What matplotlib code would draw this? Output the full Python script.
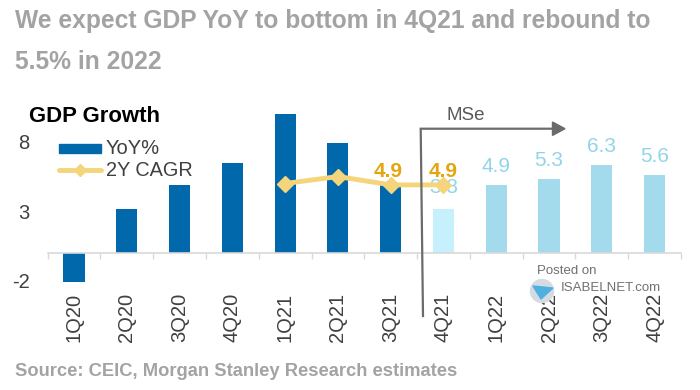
#!/usr/bin/env python3
import matplotlib
matplotlib.use('Agg')
import matplotlib.pyplot as plt
from matplotlib.patches import Circle, Polygon

W, H = 700, 390

quarters = ['1Q20', '2Q20', '3Q20', '4Q20', '1Q21', '2Q21', '3Q21', '4Q21', '1Q22', '2Q22', '3Q22', '4Q22']
yoy = [-2.1, 3.2, 4.9, 6.5, 10.0, 7.9, 4.9, 3.2, 4.9, 5.3, 6.3, 5.6]
yoy_labels = ['3.8', '4.9', '5.3', '6.3', '5.6']
cagr_quarters = ['1Q21', '2Q21', '3Q21', '4Q21']
cagr = [5.0, 5.5, 4.9, 4.9]
cagr_labels = ['4.9', '4.9']
yticks = [-2, 3, 8]

DARK = '#0068ab'
PALE = '#c5f0fc'
LIGHT = '#a3dbec'
LABEL = '#92d5ea'
GOLD = '#f5d57c'
GOLD_TEXT = '#e5a50f'
GREY = '#a3a3a3'
ARROW = '#6b6b6b'

plt.rcParams['font.family'] = ['Liberation Sans', 'DejaVu Sans']

fig = plt.figure(figsize=(W / 100, H / 100), dpi=100)

# axes box in pixels: x 47.6-681, zero at y=253, 13.9 px per unit
left, right, top, bottom = 47.6, 681.0, 100.0, 290.0
ax = fig.add_axes([left / W, 1 - bottom / H, (right - left) / W, (bottom - top) / H])
ax.set_xlim(-0.5, 11.5)
ax.set_ylim((253 - bottom) / 13.9, (253 - top) / 13.9)
ax.patch.set_alpha(0)

x = list(range(len(quarters)))
colors = [DARK] * 7 + [PALE] + [LIGHT] * 4
ax.bar(x, yoy, width=0.4, color=colors, zorder=2)

cx = [quarters.index(q) for q in cagr_quarters]
ax.plot(cx, cagr, color=GOLD, lw=3.5, marker='D', ms=8.5, mec=GOLD, solid_capstyle='round', zorder=3)

for q, lab in zip(quarters[7:], yoy_labels):
    i = quarters.index(q)
    ax.text(i, yoy[i] + 1.35 if i > 7 else 4.7, lab, color=LABEL, fontsize=15, ha='center', va='center', zorder=2.5)
for i, lab in zip([6, 7], cagr_labels):
    ax.text(i - 0.05 if i == 6 else i, 5.85, lab, color=GOLD_TEXT, fontsize=15, fontweight='bold', ha='center', va='center', zorder=4)

for s in ['top', 'right', 'left']:
    ax.spines[s].set_visible(False)
ax.spines['bottom'].set_position(('data', 0))
ax.spines['bottom'].set_color('#d9d9d9')
ax.spines['bottom'].set_linewidth(1.2)
ax.set_xticks([i - 0.5 for i in range(13)])
ax.set_xticklabels([])
ax.tick_params(axis='x', direction='out', length=4, color='#d9d9d9', width=1)
ax.set_yticks(yticks)
ax.set_yticklabels([str(v) for v in yticks], fontsize=14.5, color='#404040')
ax.tick_params(axis='y', length=0, pad=13)

# quarter labels sit under the axes, so they are placed as plain text
for i, q in zip(x, quarters):
    ax.annotate(q, (i, 0), xytext=(0, -(317.5 - 253)), xycoords='data', textcoords='offset pixels',
                rotation=90, fontsize=14.5, color='#404040', ha='center', va='center', zorder=1)

# overlay in pixel coordinates for the annotation furniture
ov = fig.add_axes([0, 0, 1, 1])
ov.set_xlim(0, W)
ov.set_ylim(H, 0)
ov.axis('off')
ov.patch.set_alpha(0)

ov.text(15, 21, 'We expect GDP YoY to bottom in 4Q21 and rebound to', fontsize=17.7, fontweight='bold', color=GREY, va='center')
ov.text(15, 62, '5.5% in 2022', fontsize=17.7, fontweight='bold', color=GREY, va='center')
ov.text(29, 116, 'GDP Growth', fontsize=15.9, fontweight='bold', color='black', va='center')
ov.text(15, 371, 'Source: CEIC, Morgan Stanley Research estimates', fontsize=13.2, fontweight='bold', color=GREY, va='center')

# legend
ov.add_patch(plt.Rectangle((59, 143.5), 42, 9.5, color=DARK))
ov.text(106, 148, 'YoY%', fontsize=14.5, color='#404040', va='center')
ov.plot([59, 101], [170, 170], color=GOLD, lw=3.5, solid_capstyle='round')
ov.plot([79.5], [170], marker='D', ms=6, color=GOLD)
ov.text(106, 170, '2Y CAGR', fontsize=14.3, color='#404040', va='center')

# MSe arrow
ov.plot([423, 420.7, 553], [316, 128.7, 128.7], color=ARROW, lw=1.6, solid_joinstyle='miter')
ov.add_patch(Polygon([[552.5, 122], [565, 128.7], [552.5, 135.4]], color=ARROW))
ov.text(446.5, 116, 'MSe', fontsize=13.5, color='#595959', va='center')

# watermark
ov.text(537, 271, 'Posted on', fontsize=9.5, color='#707070', va='center')
ov.text(560.5, 288, 'ISABELNET.com', fontsize=9.5, color='#707070', va='center')
ov.add_patch(Circle((542, 291), 11.5, color='#d5dbe0'))
ov.add_patch(Polygon([[533, 286], [553, 288], [541, 299]], color='#4fb0e0'))

fig.savefig('out.png', dpi=100)
